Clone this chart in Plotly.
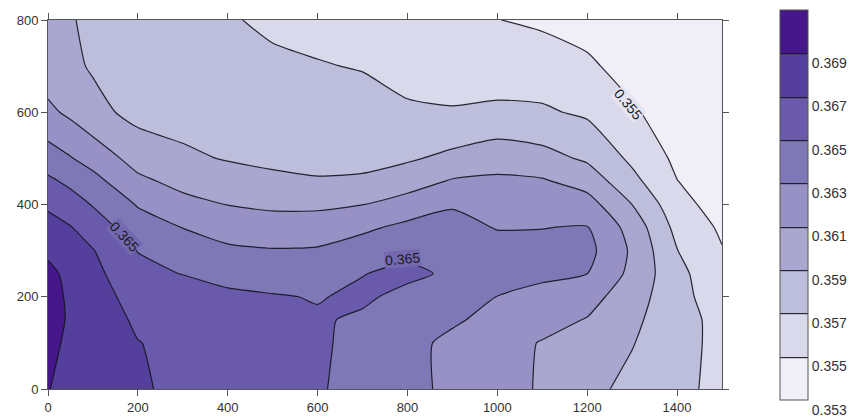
import plotly.graph_objects as go

# Grid coordinates
x_vals = [0, 50, 100, 200, 300, 400, 500, 600, 700, 800, 900, 1000, 1100, 1200, 1300, 1400, 1500]
y_vals = [0, 100, 150, 200, 250, 300, 350, 400, 450, 500, 600, 700, 800]

# Field values, one row per y level
z_y0 = [0.36905, 0.36858, 0.36812, 0.3672, 0.36663, 0.36614, 0.36565, 0.36517, 0.3644, 0.3635, 0.36261, 0.36173, 0.3608, 0.35957, 0.35846, 0.35747, 0.3565]
z_y100 = [0.3694, 0.3687, 0.36809, 0.36705, 0.36653, 0.3661, 0.36567, 0.36524, 0.36454, 0.36352, 0.36259, 0.36174, 0.36089, 0.35998, 0.3591, 0.35764, 0.3565]
z_y150 = [0.3697, 0.36878, 0.36809, 0.3667, 0.3664, 0.3659, 0.3655, 0.3652, 0.36472, 0.36399, 0.36325, 0.36244, 0.3617, 0.3609, 0.35943, 0.35775, 0.3564]
z_y200 = [0.3697, 0.36869, 0.3679, 0.3662, 0.36625, 0.3654, 0.36514, 0.3649, 0.3653, 0.36449, 0.36372, 0.36297, 0.36254, 0.36175, 0.35988, 0.35774, 0.3558]
z_y250 = [0.3695, 0.36847, 0.36753, 0.3656, 0.36494, 0.36435, 0.36413, 0.36401, 0.36495, 0.3654, 0.3647, 0.3641, 0.3633, 0.3630, 0.3605, 0.35758, 0.3555]
z_y300 = [0.36863, 0.3679, 0.36709, 0.36494, 0.36396, 0.36334, 0.36312, 0.3632, 0.36386, 0.36456, 0.3643, 0.3638, 0.3634, 0.3636, 0.3607, 0.35705, 0.3551]
z_y350 = [0.3677, 0.3671, 0.36606, 0.36392, 0.36297, 0.36219, 0.3619, 0.36199, 0.36266, 0.36346, 0.3637, 0.3629, 0.36297, 0.3631, 0.36024, 0.35642, 0.3547]
z_y400 = [0.36669, 0.36588, 0.36488, 0.36286, 0.36162, 0.36096, 0.36065, 0.36063, 0.36097, 0.36186, 0.36281, 0.36213, 0.36207, 0.36182, 0.35899, 0.35573, 0.3541]
z_y450 = [0.36541, 0.36457, 0.36366, 0.36145, 0.36042, 0.35986, 0.35942, 0.3591, 0.3592, 0.3601, 0.3612, 0.36136, 0.36122, 0.36022, 0.35758, 0.35504, 0.3539]
z_y500 = [0.36392, 0.36312, 0.36223, 0.36021, 0.35934, 0.35888, 0.3586, 0.35867, 0.35863, 0.35876, 0.35948, 0.3602, 0.35968, 0.3587, 0.3566, 0.3546, 0.3538]
z_y600 = [0.36144, 0.3606, 0.3596, 0.3584, 0.3583, 0.3582, 0.35807, 0.35789, 0.3577, 0.35729, 0.35713, 0.35733, 0.35726, 0.35669, 0.35522, 0.3541, 0.3536]
z_y700 = [0.3599, 0.3594, 0.3588, 0.3586, 0.35824, 0.3579, 0.3573, 0.3571, 0.3569, 0.3563, 0.3562, 0.35608, 0.3559, 0.3553, 0.3543, 0.3538, 0.3535]
z_y800 = [0.3595, 0.3591, 0.3587, 0.3583, 0.35775, 0.35715, 0.3567, 0.35645, 0.3561, 0.35575, 0.3554, 0.35503, 0.3547, 0.3543, 0.3538, 0.3536, 0.3534]

z_rows = [z_y0, z_y100, z_y150, z_y200, z_y250, z_y300, z_y350,
          z_y400, z_y450, z_y500, z_y600, z_y700, z_y800]

# Contour levels and tick labels
level_start = 0.355
level_end = 0.369
level_step = 0.002
scale_min = 0.353
scale_max = 0.371
cbar_ticks = [0.353, 0.355, 0.357, 0.359, 0.361, 0.363, 0.365, 0.367, 0.369]
x_ticks = [0, 200, 400, 600, 800, 1000, 1200, 1400]
y_ticks = [0, 200, 400, 600, 800]

# Band fill colours, lowest band first
band_colors = ["#F0EFF7", "#DAD9EB", "#BDBDDC", "#A9A7D0", "#9891C5",
               "#7F78B7", "#6A5AAB", "#553F9C", "#46178A"]

# Stepped colour scale so that each band between levels gets one flat colour
n_bands = len(band_colors)
colorscale = []
for i, c in enumerate(band_colors):
    colorscale.append([i / n_bands, c])
    colorscale.append([(i + 1) / n_bands, c])

FONT = "Liberation Sans, Arial, sans-serif"

fig = go.Figure(go.Contour(
    x=x_vals, y=y_vals, z=z_rows,
    zauto=False, zmin=scale_min, zmax=scale_max,
    contours=dict(start=level_start, end=level_end, size=level_step,
                  coloring="fill", showlabels=False),
    colorscale=colorscale,
    line=dict(color="rgba(20,20,30,0.9)", width=1.2, smoothing=0.6),
    colorbar=dict(
        tickvals=cbar_ticks,
        ticktext=[f"{v:.3f}" for v in cbar_ticks],
        ticks="", ticklabelposition="outside bottom",
        ticklabeloverflow="allow",
        thickness=28, thicknessmode="pixels",
        len=390, lenmode="pixels",
        xpad=0, ypad=0,
        x=1.086, xanchor="left", y=0.4986, yanchor="middle",
        outlinewidth=1, outlinecolor="#555",
        tickfont=dict(family=FONT, size=14, color="#333"),
    ),
    hoverinfo="skip",
))

# Inline contour labels: (x, y, angle, text, background)
contour_labels = [
    (171, 330, 47, "0.365", "#7469B1"),
    (788, 282, -5, "0.365", "#7469B1"),
    (1291, 618, 50, "0.355", "#E5E4F1"),
]
for lx, ly, ang, txt, bg in contour_labels:
    fig.add_annotation(x=lx, y=ly, text=txt, textangle=ang, showarrow=False,
                       font=dict(family=FONT, size=14, color="#1a1a1a"),
                       bgcolor=bg, borderpad=0)

axis_style = dict(showline=True, linecolor="#555", linewidth=1, mirror="ticks",
                  ticks="outside", ticklen=6, tickcolor="#555", tickwidth=1,
                  showgrid=False, zeroline=False,
                  tickfont=dict(family=FONT, size=13, color="#333"))

fig.update_xaxes(range=[0, 1500], tickvals=x_ticks, **axis_style)
fig.update_yaxes(range=[0, 800], tickvals=y_ticks, **axis_style)

fig.update_layout(
    width=853, height=417,
    margin=dict(l=48, r=131, t=20, b=28, autoexpand=False),
    paper_bgcolor="white", plot_bgcolor="white",
    font=dict(family=FONT, size=13, color="#333"),
    showlegend=False,
)

fig.write_html("out.html")
